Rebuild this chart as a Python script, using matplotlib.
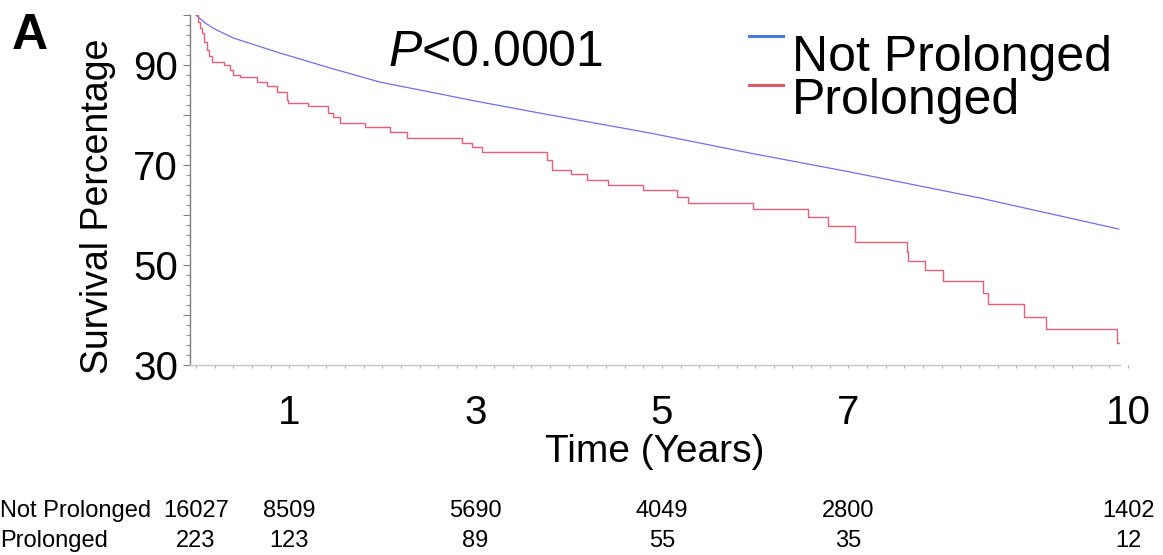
import matplotlib
matplotlib.use("Agg")
import matplotlib.pyplot as plt
import matplotlib.transforms as mtransforms
from matplotlib.ticker import MultipleLocator, FixedLocator, FuncFormatter
from matplotlib.lines import Line2D

plt.rcParams['font.family'] = ['Liberation Sans', 'DejaVu Sans']
plt.rcParams['mathtext.fontset'] = 'custom'
plt.rcParams['mathtext.it'] = 'Liberation Sans:italic'
plt.rcParams['mathtext.rm'] = 'Liberation Sans'

# ---- data ----
group_names = ["Not Prolonged", "Prolonged"]

not_prolonged_time = [0, 0.10, 0.18, 0.40, 0.90, 1.44, 1.97, 3.05, 3.80, 4.87, 5.94, 7.02, 8.41, 9.90]
not_prolonged_surv = [100, 98.4, 97.4, 95.4, 92.4, 89.4, 86.6, 82.6, 80.0, 76.4, 72.4, 68.6, 63.4, 57.2]

prolonged_time = [0, 0.02, 0.04, 0.064, 0.09, 0.118, 0.145, 0.17, 0.30, 0.36, 0.40, 0.47, 0.65,
                  0.76, 0.87, 0.98, 0.99, 1.20, 1.42, 1.47, 1.55, 1.81, 2.08, 2.26, 2.85, 2.96,
                  3.07, 3.77, 3.82, 4.02, 4.20, 4.42, 4.80, 5.16, 5.28, 5.98, 6.57, 6.78, 7.07,
                  7.63, 7.64, 7.82, 8.02, 8.44, 8.50, 8.88, 9.12, 9.88, 9.90]
prolonged_surv = [100, 98.6, 97.4, 96.4, 94.6, 93.0, 91.8, 90.6, 90.0, 89.0, 88.0, 87.6, 86.6,
                  85.8, 84.6, 83.0, 82.4, 81.8, 80.4, 79.6, 78.4, 77.6, 76.6, 75.4, 74.4, 73.6,
                  72.6, 71.0, 69.0, 68.2, 67.0, 66.0, 65.0, 63.6, 62.4, 61.2, 59.6, 57.8, 54.6,
                  52.6, 50.8, 49.0, 46.8, 44.4, 42.2, 39.6, 37.2, 34.4, 34.4]

x_ticks = [1, 3, 5, 7, 10]
y_labeled = [30, 50, 70, 90]

risk_times = [0, 1, 3, 5, 7, 10]
risk_not_prolonged = [16027, 8509, 5690, 4049, 2800, 1402]
risk_prolonged = [223, 123, 89, 55, 35, 12]

p_text = r"$\mathit{P}$<0.0001"

# ---- figure ----
W, H = 1163, 555
fig = plt.figure(figsize=(W / 100, H / 100), dpi=100)
ax = fig.add_axes([190 / W, 1 - 365 / H, 938 / W, 350 / H])

blue = "#6f6ff2"
red = "#e2607a"

ax.plot(not_prolonged_time, not_prolonged_surv, color=blue, lw=0.9)
ax.step(prolonged_time, prolonged_surv, where="post", color=red, lw=1.0)

ax.set_xlim(-0.064, 10.0)
ax.set_ylim(30, 100)

for s in ["top", "right"]:
    ax.spines[s].set_visible(False)
ax.spines["left"].set_color("#808080")
ax.spines["bottom"].set_color("#c8c8c8")
ax.spines["left"].set_linewidth(1.0)
ax.spines["bottom"].set_linewidth(1.0)
ax.spines["bottom"].set_bounds(-0.064, 9.91)

ax.yaxis.set_major_locator(MultipleLocator(10))
ax.yaxis.set_minor_locator(MultipleLocator(2))
ax.yaxis.set_major_formatter(FuncFormatter(lambda v, p: f"{int(round(v))}" if int(round(v)) in y_labeled else ""))
ax.tick_params(axis="y", which="major", length=5, width=0.8, color="#808080", labelsize=29, pad=3.6)
ax.tick_params(axis="y", which="minor", length=3, width=0.8, color="#909090")

ax.xaxis.set_major_locator(FixedLocator(x_ticks))
ax.xaxis.set_minor_locator(MultipleLocator(0.2))
ax.tick_params(axis="x", which="major", length=2, width=0.8, color="#b0b0b0", labelsize=29, pad=19)
ax.tick_params(axis="x", which="minor", length=2, width=0.8, color="#b0b0b0")

# axis labels
ax.set_xlabel("Time (Years)", fontsize=28, va="baseline")
ax.xaxis.set_label_coords((655 - 190) / 938, (365 - 462) / 350)
ax.set_ylabel("Survival Percentage", fontsize=27, va="center")
ax.yaxis.set_label_coords((98 - 190) / 938, (365 - 206) / 350)

# panel letter
fig.text(12 / W, 1 - 49 / H, "A", fontsize=36, fontweight="bold", ha="left", va="baseline")

# p-value
fig.text(388 / W, 1 - 66 / H, p_text, fontsize=36, ha="left", va="baseline")

# legend (manual, as in original)
leg_colors = ["#4a78e6", "#e05a6e"]
leg_text_y = [71, 114]
leg_line_y = [36, 85]
for name, c, ty, ly in zip(group_names, leg_colors, leg_text_y, leg_line_y):
    fig.add_artist(Line2D([749 / W, 783 / W], [1 - ly / H, 1 - ly / H], color=c, lw=2.2,
                          transform=fig.transFigure))
    fig.text(792 / W, 1 - ty / H, name, fontsize=36, ha="left", va="baseline")

# number-at-risk table
trans = mtransforms.blended_transform_factory(ax.transData, fig.transFigure)
row_y = [1 - 517 / H, 1 - 547 / H]
for name, ry in zip(group_names, row_y):
    fig.text(0, ry, name, fontsize=17, ha="left", va="baseline")
for t, a, b in zip(risk_times, risk_not_prolonged, risk_prolonged):
    ax.text(t, row_y[0], str(a), transform=trans, fontsize=17, ha="center", va="baseline", clip_on=False)
    ax.text(t, row_y[1], str(b), transform=trans, fontsize=17, ha="center", va="baseline", clip_on=False)

fig.savefig("out.png", dpi=100)
